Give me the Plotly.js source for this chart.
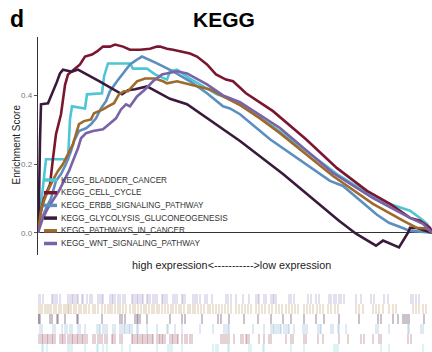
<!DOCTYPE html>
<html><head><meta charset="utf-8">
<script src="https://cdn.plot.ly/plotly-3.0.1.min.js"></script>
<style>html,body{margin:0;padding:0;background:#fff;}#chart{width:432px;height:352px;}</style>
</head><body><div id="chart"></div>
<script>
// Gene sets (legend order)
const geneSets = ['KEGG_BLADDER_CANCER','KEGG_CELL_CYCLE','KEGG_ERBB_SIGNALING_PATHWAY','KEGG_GLYCOLYSIS_GLUCONEOGENESIS','KEGG_PATHWAYS_IN_CANCER','KEGG_WNT_SIGNALING_PATHWAY'];
const setColors = ['#4EC6D3','#7B1631','#5A8FC0','#3A1A3C','#9E6A2C','#7962A8'];
const rugColors = ['rgba(78,198,211,0.28)','rgba(123,22,49,0.28)','rgba(90,143,192,0.28)','rgba(58,26,60,0.38)','rgba(158,106,44,0.28)','rgba(121,98,168,0.28)'];

// Running enrichment score: rank position (0-394) and ES
const bladderRank = [0,6,8,30,32,34,47,49,64,66,70,92,95,109,117,129,132,139,152,179,192,235,299,342,372,382,389,394];
const bladderES   = [0,0.15,0.214,0.214,0.33,0.368,0.362,0.403,0.406,0.455,0.493,0.493,0.478,0.478,0.461,0.446,0.47,0.475,0.449,0.403,0.391,0.31,0.171,0.093,0.064,0.043,0.026,0];

const cellRank = [0,2,6,12,15,18,23,25,27,30,42,47,54,59,65,72,77,85,92,102,112,119,122,129,135,152,159,169,178,188,195,208,235,268,299,329,342,352,372,382,392,394];
const cellES   = [0,0.05,0.1,0.14,0.217,0.287,0.345,0.383,0.43,0.461,0.49,0.513,0.519,0.528,0.542,0.542,0.548,0.542,0.533,0.533,0.536,0.542,0.542,0.536,0.533,0.522,0.513,0.49,0.461,0.446,0.441,0.406,0.354,0.272,0.188,0.122,0.101,0.084,0.043,0.035,0.014,0];

const erbbRank = [0,2,8,13,18,23,28,33,36,41,48,53,58,63,68,72,79,85,92,99,104,119,135,152,169,185,192,202,232,292,299,305,339,351,366,371,394];
const erbbES   = [0,0.03,0.07,0.1,0.151,0.171,0.2,0.238,0.267,0.296,0.304,0.316,0.333,0.362,0.383,0.412,0.441,0.464,0.49,0.504,0.513,0.493,0.47,0.441,0.406,0.368,0.362,0.345,0.272,0.151,0.142,0.136,0.052,0.029,0.012,0.006,0];

const glycoRank = [0,1,2,3,10,15,19,22,25,34,40,62,84,90,97,109,122,132,149,169,202,245,301,318,338,345,361,370,372,378,388,394];
const glycoES   = [0,0.09,0.27,0.374,0.377,0.41,0.44,0.464,0.475,0.469,0.475,0.44,0.403,0.415,0.418,0.426,0.406,0.39,0.374,0.333,0.267,0.171,0.035,-0.003,-0.038,-0.023,-0.043,0.0,0.014,0.014,0.006,0];

const pathRank = [0,3,6,11,16,20,25,30,35,38,41,46,53,56,65,70,76,81,86,90,99,107,117,125,129,139,159,172,185,202,222,242,295,335,365,379,389,394];
const pathES   = [0,0.064,0.093,0.13,0.159,0.18,0.2,0.229,0.258,0.287,0.316,0.325,0.33,0.348,0.359,0.368,0.377,0.403,0.412,0.412,0.441,0.449,0.449,0.441,0.435,0.441,0.426,0.417,0.397,0.372,0.333,0.29,0.165,0.084,0.035,0.014,0.012,0];

const wntRank = [0,5,10,16,21,26,31,36,40,43,48,55,65,71,78,83,88,92,99,107,115,124,130,139,149,169,185,202,242,295,335,372,385,394];
const wntES   = [0,0.043,0.072,0.101,0.122,0.151,0.18,0.217,0.246,0.275,0.29,0.296,0.301,0.316,0.333,0.359,0.374,0.368,0.397,0.417,0.441,0.461,0.464,0.47,0.464,0.432,0.40,0.38,0.305,0.174,0.101,0.043,0.026,0];

// Hit positions (rank) for each gene set
const bladderHits = [4,5,9,30,32,34,47,59,60,65,69,84,92,119,130,132,134,144,175,178,180,190,191,211,213,225,226,253,266,296,298,300,343,351,385];
const cellHits = [0,2,4,5,7,9,10,12,14,15,17,22,24,25,27,30,32,34,35,37,39,40,42,44,45,47,49,55,57,60,62,64,67,69,74,75,77,82,84,94,95,97,99,100,102,104,105,107,109,110,112,114,115,119,121,122,124,125,127,132,134,135,137,139,140,144,147,149,152,154,183,185,187,189,191,196,203,205,208,209,211,221,226,231,233,248,253,255,266,268,280,285,301,310,323,326,335,341,343,370,373];
const erbbHits = [2,4,15,17,24,27,29,32,34,40,42,47,59,61,62,65,67,69,75,77,82,84,86,87,89,91,92,94,99,100,109,119,129,130,137,144,162,175,186,188,190,191,215,226,233,235,236,238,240,242,243,246,248,250,251,256,265,267,269,280,282,283,293,295,300,301,308,338,340,351,370,371,383,385];
const glycoHits = [0,1,2,12,14,19,20,27,39,40,64,82,84,87,97,99,100,102,109,132,144,147,164,180,183,191,206,220,233,245,253,266,278,286,301,321,340,343,355,360,365,367,369,371,386];
const pathHits = [0,2,4,7,9,11,13,16,18,21,23,26,28,30,31,33,36,38,41,43,46,48,51,55,57,60,64,67,70,72,74,77,80,82,85,88,92,95,97,100,103,106,108,111,114,116,119,121,124,127,130,133,135,138,141,143,146,150,152,155,157,160,163,166,170,172,175,178,181,184,187,190,193,198,201,204,207,210,213,218,221,224,227,231,234,238,241,244,248,251,254,257,260,266,269,272,275,279,282,285,290,293,297,300,318,321,325,335,338,341,345,351,355,358,375,378,381,385,388];
const wntHits = [0,2,5,14,15,17,19,22,30,32,34,35,37,39,40,44,45,49,52,54,60,62,64,65,72,74,75,77,80,82,85,87,94,95,97,99,100,102,104,105,109,110,112,115,117,119,124,125,127,129,135,137,139,144,145,147,155,157,159,162,167,169,174,188,190,193,198,205,211,218,220,221,226,228,233,235,236,238,251,253,256,270,273,278,281,291,293,296,298,301,303,306,318,323,333,336,346,350,373,375,378,381];

const yTicks = [0, 0.2, 0.4];
const titleText = 'KEGG';
const xTitle = 'high expression<----------->low expression';
const yTitle = 'Enrichment Score';

const ranks = [bladderRank, cellRank, erbbRank, glycoRank, pathRank, wntRank];
const scores = [bladderES, cellES, erbbES, glycoES, pathES, wntES];
const hits = [bladderHits, cellHits, erbbHits, glycoHits, pathHits, wntHits];

const sans = 'Liberation Sans, Arial, sans-serif';

const traces = [];
// rug rows (drawn in lower subplot)
hits.forEach((h, i) => {
  const xs = [], ys = [];
  h.forEach(v => { xs.push(v, v, null); ys.push(i, i + 1, null); });
  traces.push({x: xs, y: ys, xaxis: 'x', yaxis: 'y2', mode: 'lines', type: 'scatter',
    line: {color: rugColors[i], width: 1.4}, hoverinfo: 'skip', showlegend: false});
});
// running ES curves
geneSets.forEach((name, i) => {
  traces.push({x: ranks[i], y: scores[i], name: name, mode: 'lines', type: 'scatter',
    line: {color: setColors[i], width: 2.6}, showlegend: false});
});

// manual legend
const L = 38, W = 394, T = 37, H = 315; // plot-frame pixels
const px2x = p => (p - L) / W;
const py2y = p => (352 - p) / H;
const legendY0 = 180, legendStep = 12.7;
const shapes = [], annotations = [];
geneSets.forEach((name, i) => {
  const yy = py2y(legendY0 + i * legendStep);
  shapes.push({type: 'line', xref: 'paper', yref: 'paper', x0: px2x(44), x1: px2x(57), y0: yy, y1: yy,
    line: {color: setColors[i], width: 3.5}});
  annotations.push({xref: 'paper', yref: 'paper', x: px2x(59), y: yy, xanchor: 'left', yanchor: 'middle',
    text: name, showarrow: false, font: {family: sans, size: 8.2, color: '#333'}});
});
annotations.push({xref: 'paper', yref: 'paper', x: px2x(231), y: py2y(265), xanchor: 'center', yanchor: 'middle',
  text: xTitle, showarrow: false, font: {family: sans, size: 10.8, color: '#222'}});
annotations.push({xref: 'paper', yref: 'paper', x: px2x(15.5), y: py2y(145), xanchor: 'center', yanchor: 'middle',
  text: yTitle, textangle: -90, showarrow: false, font: {family: sans, size: 10, color: '#222'}});
annotations.push({xref: 'paper', yref: 'paper', x: px2x(8), y: py2y(19), xanchor: 'left', yanchor: 'middle',
  text: '<b>d</b>', showarrow: false, font: {family: sans, size: 23, color: '#000'}});

const layout = {
  width: 432, height: 352,
  margin: {l: L, r: 0, t: T, b: 0},
  paper_bgcolor: '#fff', plot_bgcolor: 'rgba(0,0,0,0)',
  showlegend: false,
  title: {text: '<b>' + titleText + '</b>', x: 224 / 432, xanchor: 'center', y: 1 - 20 / 352, yanchor: 'middle',
    font: {family: sans, size: 21, color: '#000'}},
  xaxis: {range: [0, 394], showgrid: false, zeroline: false, showline: false, showticklabels: false, ticks: '', anchor: 'y'},
  yaxis: {domain: [py2y(255), 1], range: [-0.065, 0.57], tickvals: yTicks, tickformat: '.1f',
    showgrid: false, zeroline: true, zerolinecolor: '#333', zerolinewidth: 1.2,
    showline: true, linecolor: '#333', linewidth: 1.2, ticks: 'outside', ticklen: 3, tickcolor: '#555',
    tickfont: {family: sans, size: 8, color: '#777'}},
  yaxis2: {domain: [0, py2y(294)], range: [0.2, 6], visible: false, showgrid: false, zeroline: false},
  shapes: shapes,
  annotations: annotations
};
Plotly.newPlot('chart', traces, layout, {displayModeBar: false, staticPlot: true});
</script></body></html>
